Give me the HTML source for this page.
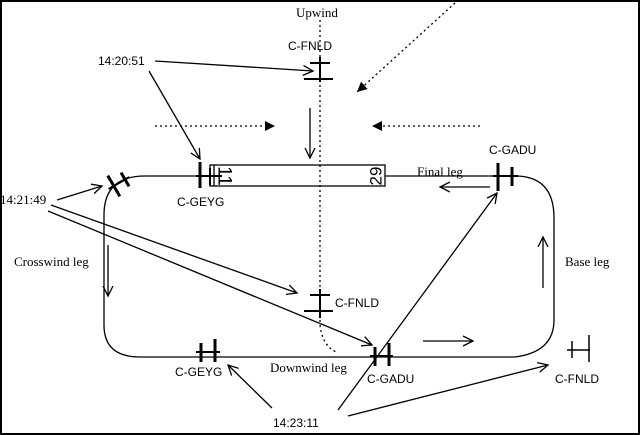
<!DOCTYPE html>
<html><head><style>
html,body{margin:0;padding:0;background:#fff;}
svg{display:block;}
.s{font-family:"Liberation Serif",serif;font-size:13px;}
.a{font-family:"Liberation Sans",sans-serif;font-size:12px;}
</style></head><body>
<svg width="640" height="435" viewBox="0 0 640 435" xmlns="http://www.w3.org/2000/svg">
<defs>
<marker id="o" markerWidth="12" markerHeight="12" refX="10" refY="6" orient="auto" markerUnits="userSpaceOnUse">
<path d="M0,1 L10,6 L0,11" fill="none" stroke="#000" stroke-width="1.3"/></marker>
<marker id="f" markerWidth="12" markerHeight="12" refX="10" refY="6" orient="auto" markerUnits="userSpaceOnUse">
<path d="M0,1 L10,6 L0,11 Z" fill="#000"/></marker>
</defs>
<rect x="1" y="1" width="638" height="433" fill="none" stroke="#000" stroke-width="2"/>
<g fill="none" stroke="#000" stroke-width="1.3">
<path d="M145,176 L210,176 M385,176 L515,176 Q554,176 554,218 L554,320 Q554,352 515,357 L140,357 Q104,357 104,325 L104,215 Q104,176 145,176"/>
<rect x="210" y="165" width="175" height="21"/>
<line x1="214" y1="165" x2="214" y2="186"/>
<path d="M320,20 L320,325 Q322,345 336,352" stroke-dasharray="2,3"/>
<line x1="155" y1="126" x2="275" y2="126" stroke-dasharray="2,3" marker-end="url(#f)"/>
<line x1="480" y1="126" x2="372" y2="126" stroke-dasharray="2,3" marker-end="url(#f)"/>
<line x1="455" y1="3" x2="357" y2="92" stroke-dasharray="2,3" marker-end="url(#f)"/>
<line x1="310" y1="108" x2="310" y2="158" marker-end="url(#o)"/>
<line x1="108" y1="245" x2="108" y2="296" marker-end="url(#o)"/>
<line x1="490" y1="187" x2="440" y2="187" marker-end="url(#o)"/>
<line x1="543" y1="288" x2="543" y2="237" marker-end="url(#o)"/>
<line x1="423" y1="341" x2="473" y2="341" marker-end="url(#o)"/>
<line x1="155" y1="61" x2="313" y2="71" marker-end="url(#o)"/>
<line x1="149" y1="71" x2="200" y2="159" marker-end="url(#o)"/>
<line x1="57" y1="200" x2="102" y2="186" marker-end="url(#o)"/>
<line x1="51" y1="205" x2="297" y2="293" marker-end="url(#o)"/>
<line x1="48" y1="211" x2="372" y2="345" marker-end="url(#o)"/>
<line x1="272" y1="408" x2="228" y2="365" marker-end="url(#o)"/>
<line x1="338" y1="410" x2="497" y2="193" marker-end="url(#o)"/>
<line x1="348" y1="416" x2="548" y2="365" marker-end="url(#o)"/>
<line x1="320" y1="57" x2="320" y2="82" stroke-width="2"/>
<line x1="310" y1="63" x2="330" y2="63" stroke-width="2"/>
<line x1="304" y1="79" x2="333" y2="79" stroke-width="2"/>
<line x1="320" y1="289" x2="320" y2="318" stroke-width="2"/>
<line x1="310" y1="295" x2="330" y2="295" stroke-width="2"/>
<line x1="304" y1="311" x2="333" y2="311" stroke-width="2"/>
<line x1="200" y1="162" x2="200" y2="188" stroke-width="3"/>
<line x1="196" y1="176" x2="222" y2="176" stroke-width="2"/>
<line x1="210" y1="168" x2="210" y2="185" stroke-width="2"/>
<g transform="translate(119,183) rotate(-30)">
<line x1="-6" y1="-12" x2="-6" y2="12" stroke-width="3"/>
<line x1="7" y1="-8" x2="7" y2="8" stroke-width="3"/>
<line x1="-12" y1="0" x2="12" y2="0" stroke-width="2"/>
</g>
<line x1="498" y1="163" x2="498" y2="191" stroke-width="3"/>
<line x1="512" y1="167" x2="512" y2="186" stroke-width="3"/>
<line x1="493" y1="176" x2="518" y2="176" stroke-width="2"/>
<line x1="201" y1="343" x2="201" y2="362" stroke-width="3"/>
<line x1="215" y1="339" x2="215" y2="362" stroke-width="3"/>
<line x1="196" y1="352" x2="220" y2="352" stroke-width="2"/>
<line x1="375" y1="347" x2="375" y2="366" stroke-width="3"/>
<line x1="389" y1="343" x2="389" y2="366" stroke-width="3"/>
<line x1="370" y1="356" x2="393" y2="356" stroke-width="2"/>
<line x1="572" y1="341" x2="572" y2="358" stroke-width="1.5"/>
<line x1="589" y1="335" x2="589" y2="362" stroke-width="1.5"/>
<line x1="567" y1="350" x2="590" y2="350" stroke-width="1.5"/>
</g>
<text x="224" y="176" transform="rotate(90 224 176)" style="font-family:'Liberation Sans',sans-serif;font-size:19px" text-anchor="middle" dominant-baseline="central">11</text>
<text x="376" y="176" transform="rotate(-90 376 176)" style="font-family:'Liberation Sans',sans-serif;font-size:17px" text-anchor="middle" dominant-baseline="central">29</text>
<g class="s">
<text x="296" y="17">Upwind</text>
<text x="417" y="176">Final leg</text>
<text x="14" y="266">Crosswind leg</text>
<text x="565" y="266">Base leg</text>
<text x="270" y="372">Downwind leg</text>
<text x="0" y="204">14:21:49</text>
</g>
<g class="a">
<text x="288" y="50">C-FNLD</text>
<text x="98" y="65">14:20:51</text>
<text x="489" y="154">C-GADU</text>
<text x="177" y="206">C-GEYG</text>
<text x="335" y="307">C-FNLD</text>
<text x="175" y="376">C-GEYG</text>
<text x="367" y="383">C-GADU</text>
<text x="555" y="383">C-FNLD</text>
<text x="273" y="427">14:23:11</text>
</g>
</svg>
</body></html>
